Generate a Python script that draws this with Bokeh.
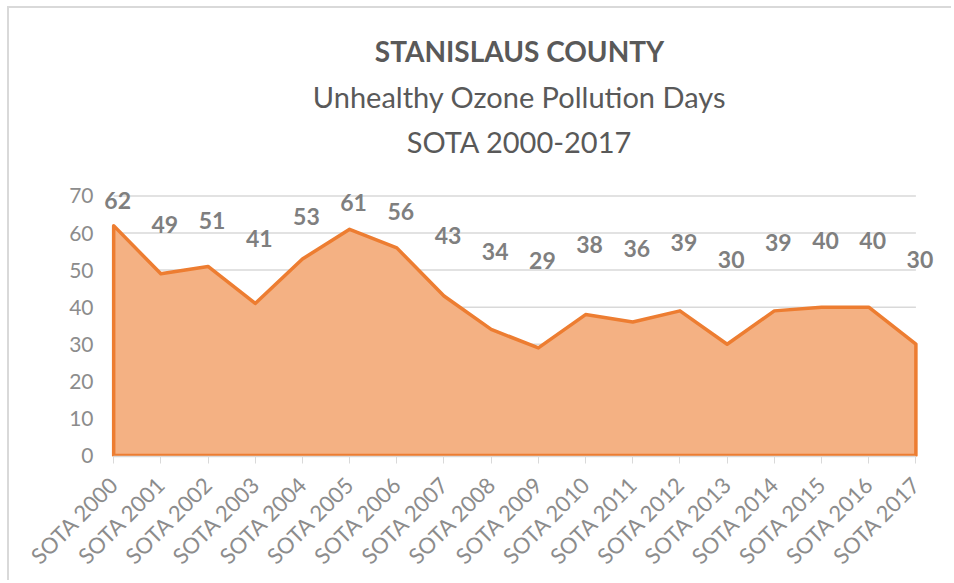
import numpy as np
from bokeh.plotting import figure
from bokeh.models import Range1d, FixedTicker, Title, ColumnDataSource
from bokeh.core.properties import value
from bokeh.embed import file_html
from bokeh.resources import INLINE

categories = ["SOTA 2000", "SOTA 2001", "SOTA 2002", "SOTA 2003", "SOTA 2004", "SOTA 2005",
              "SOTA 2006", "SOTA 2007", "SOTA 2008", "SOTA 2009", "SOTA 2010", "SOTA 2011",
              "SOTA 2012", "SOTA 2013", "SOTA 2014", "SOTA 2015", "SOTA 2016", "SOTA 2017"]
days = [62, 49, 51, 41, 53, 61, 56, 43, 34, 29, 38, 36, 39, 30, 39, 40, 40, 30]
y_ticks = [0, 10, 20, 30, 40, 50, 60, 70]

FONT = "Lato"
xs = list(range(len(categories)))
n = len(categories)

p = figure(width=944, height=574, output_backend="svg", toolbar_location=None,
           x_range=Range1d(-0.3, n - 1 + 0.5), y_range=Range1d(-0.3, 77.96),
           min_border_left=90, min_border_right=14, min_border_bottom=126, min_border_top=158,
           title=None, margin=(6, 0, 0, 7))
p.extra_y_ranges = {"lbl": Range1d(-77.74, 80.52)}
p.styles = {"border-top": "2px solid #d9d9d9", "border-left": "2px solid #d9d9d9"}

# titles: first added is nearest to the plot
p.add_layout(Title(text="SOTA 2000-2017", align="center", text_font=FONT,
                   text_font_style="normal", text_font_size="29px", text_color="#595959",
                   standoff=15), "above")
p.add_layout(Title(text="Unhealthy Ozone Pollution Days", align="center", text_font=FONT,
                   text_font_style="normal", text_font_size="29px", text_color="#595959",
                   standoff=2), "above")
p.add_layout(Title(text="STANISLAUS COUNTY", align="center", text_font=FONT,
                   text_font_style="bold", text_font_size="28px", text_color="#595959",
                   standoff=16), "above")

p.outline_line_color = None
p.background_fill_color = "white"
p.border_fill_color = "white"

# gridlines spanning the category extent
p.segment(x0=[xs[0]] * len(y_ticks), x1=[xs[-1]] * len(y_ticks), y0=y_ticks, y1=y_ticks,
          line_color="#d9d9d9", line_width=1.5)

# area
area_x = [xs[0]] + xs + [xs[-1]]
area_y = [0] + days + [0]
p.patch(area_x, area_y, fill_color="#f4b183", line_color="#ed7d31", line_width=3.5,
        line_join="round")

# data labels
src = ColumnDataSource(dict(x=xs, y=days, t=[str(v) for v in days]))
p.text(x="x", y="y", text="t", source=src, y_range_name="lbl",
       text_align="center", text_baseline="middle", x_offset=4,
       text_font=value(FONT), text_font_style="bold", text_font_size="23px",
       text_color="#7f7f7f")

# axes
p.xaxis.ticker = FixedTicker(ticks=xs)
p.xaxis.bounds = (xs[0], xs[-1])
p.xaxis.major_label_overrides = {i: c for i, c in enumerate(categories)}
p.xaxis.major_label_orientation = np.pi / 4
p.xaxis.axis_line_color = "#d9d9d9"
p.xaxis.axis_line_width = 1.5
p.xaxis.major_tick_line_color = "#d9d9d9"
p.xaxis.major_tick_out = 7
p.xaxis.major_tick_in = 0
p.xaxis.minor_tick_line_color = None
p.xaxis.major_label_text_font = FONT
p.xaxis.major_label_text_font_size = "22px"
p.xaxis.major_label_text_color = "#8c8c8c"
p.xaxis.major_label_standoff = 17

p.yaxis.ticker = FixedTicker(ticks=y_ticks)
p.yaxis.axis_line_color = None
p.yaxis.major_tick_line_color = None
p.yaxis.minor_tick_line_color = None
p.yaxis.major_label_text_font = FONT
p.yaxis.major_label_text_font_size = "21px"
p.yaxis.major_label_text_color = "#8c8c8c"
p.yaxis.major_label_standoff = 0

p.xgrid.grid_line_color = None
p.ygrid.grid_line_color = None

open("out.html", "w").write(file_html(p, INLINE))
